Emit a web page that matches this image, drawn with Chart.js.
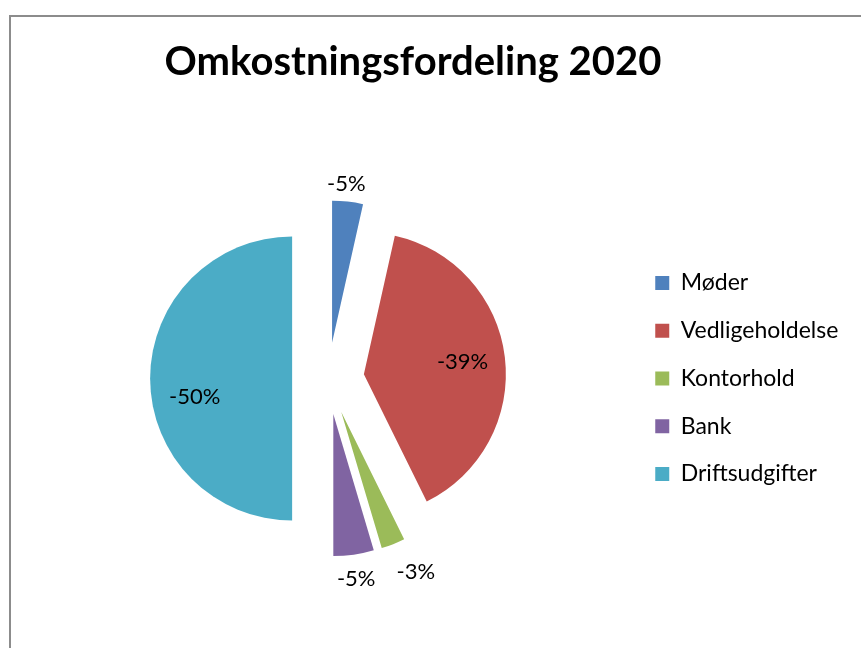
<!DOCTYPE html>
<html>
<head>
<meta charset="utf-8">
<title>Omkostningsfordeling 2020</title>
<script src="https://cdn.jsdelivr.net/npm/chart.js@4/dist/chart.umd.min.js"></script>
<style>
  html, body { margin: 0; padding: 0; background: #fff; overflow: hidden; }
  body { width: 861px; height: 648px; position: relative; }
  #frame {
    position: absolute; left: 9px; top: 15px; width: 900px; height: 700px;
    border-left: 2px solid #8c8c8c; border-top: 2px solid #8c8c8c;
  }
  #chart { position: absolute; left: -24px; top: 0; }
</style>
</head>
<body>
<div id="frame"></div>
<canvas id="chart" width="885" height="648"></canvas>
<script>
// data
const categories = ["Møder", "Vedligeholdelse", "Kontorhold", "Bank", "Driftsudgifter"];
const shares = [-3.5, -39.2, -2.7, -4.6, -50.0];
const shareLabels = ["-5%", "-39%", "-3%", "-5%", "-50%"];
const colors = ["#4F81BD", "#C0504D", "#9BBB59", "#8064A2", "#4BACC6"];

Chart.defaults.color = "#000";
Chart.defaults.font.family = "Lato, 'Open Sans', sans-serif";

// excel style explosion: every slice pushed out along its middle angle
const explodePlugin = {
    id: "explode",
    beforeDatasetDraw(chart, args, opts) {
        const ctx = chart.ctx;
        args.meta.data.forEach((arc) => {
            const mid = (arc.startAngle + arc.endAngle) / 2;
            ctx.save();
            ctx.translate(Math.cos(mid) * opts.distance, Math.sin(mid) * opts.distance);
            arc.draw(ctx);
            ctx.restore();
        });
        return false;
    }
};

// percentage labels, inside or outside the slice
const labelPlugin = {
    id: "sliceLabels",
    afterDatasetsDraw(chart, args, opts) {
        const ctx = chart.ctx;
        const meta = chart.getDatasetMeta(0);
        const shift = chart.options.plugins.explode.distance;
        ctx.save();
        ctx.font = "22px Lato";
        ctx.fillStyle = "#000";
        ctx.textAlign = "center";
        ctx.textBaseline = "middle";
        meta.data.forEach((arc, i) => {
            const mid = (arc.startAngle + arc.endAngle) / 2;
            const ax = arc.x + Math.cos(mid) * shift;
            const ay = arc.y + Math.sin(mid) * shift;
            const dist = opts.place[i] === "in" ? arc.outerRadius * 0.7 : arc.outerRadius + 24;
            const x = ax + Math.cos(mid) * dist + opts.nudge[i][0];
            const y = ay + Math.sin(mid) * dist + opts.nudge[i][1];
            ctx.fillText(shareLabels[i], x, y);
        });
        ctx.restore();
    }
};

new Chart(document.getElementById("chart"), {
    type: "pie",
    data: {
        labels: categories,
        datasets: [{
            data: shares,
            backgroundColor: colors,
            borderWidth: 0,
            hoverOffset: 0,
            radius: 142
        }]
    },
    options: {
        responsive: false,
        animation: false,
        devicePixelRatio: 1,
        layout: { padding: { left: 2, right: 13, top: 0, bottom: 109.5 } },
        plugins: {
            title: {
                display: true,
                text: "Omkostningsfordeling 2020",
                font: { size: 40, weight: "bold" },
                padding: { top: 38, bottom: 132.5 }
            },
            // empty subtitle on the left: a spacer so the pie sits left of the title centre like in excel
            subtitle: {
                display: true,
                text: "",
                position: "left",
                fullSize: false,
                font: { size: 10 },
                padding: { top: 17.875, bottom: 17.875 }
            },
            legend: {
                position: "right",
                fullSize: false,
                labels: {
                    font: { size: 23 },
                    boxWidth: 14,
                    boxHeight: 14,
                    padding: 24.75
                }
            },
            tooltip: { enabled: false },
            explode: { distance: 36 },
            sliceLabels: {
                place: ["out", "in", "out", "out", "in"],
                nudge: [[-4, 6], [0, 0], [14, 5], [-1, 1], [2, 18]]
            }
        }
    },
    plugins: [explodePlugin, labelPlugin]
});
</script>
</body>
</html>
